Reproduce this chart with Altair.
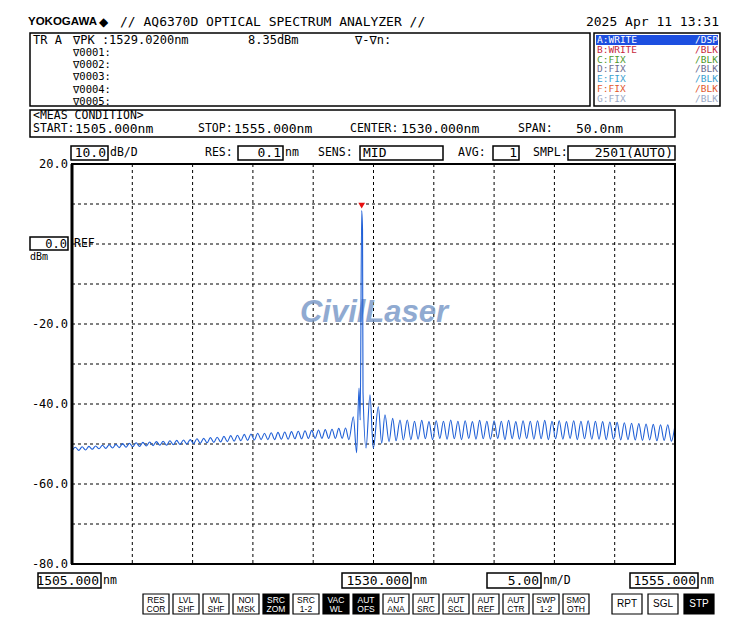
import altair as alt
import pandas as pd

W, H = 730, 608
MONO = "DejaVu Sans Mono"
SANS = "Liberation Sans"

# ---------------- spectrum data ----------------
LEFT_NM = [1505.00, 1505.28, 1505.56, 1505.84, 1506.12, 1506.40, 1506.68, 1506.96, 1507.24, 1507.52,
           1507.80, 1508.08, 1508.36, 1508.64, 1508.92, 1509.20, 1509.48, 1509.76, 1510.04, 1510.32,
           1510.60, 1510.88, 1511.16, 1511.44, 1511.72, 1512.00, 1512.28, 1512.56, 1512.84, 1513.12,
           1513.40, 1513.68, 1513.96, 1514.24, 1514.52, 1514.80, 1515.08, 1515.36, 1515.64, 1515.92,
           1516.20, 1516.48, 1516.76, 1517.04, 1517.32, 1517.60, 1517.88, 1518.16, 1518.44, 1518.72,
           1519.00, 1519.28, 1519.56, 1519.84, 1520.12, 1520.40, 1520.68, 1520.96, 1521.24, 1521.52,
           1521.80, 1522.08, 1522.36, 1522.64, 1522.92, 1523.20, 1523.48, 1523.76, 1524.04, 1524.32,
           1524.60, 1524.88, 1525.16, 1525.44, 1525.72, 1526.00, 1526.28, 1526.56, 1526.84, 1527.12,
           1527.40, 1527.68, 1527.96]
LEFT_DBM = [-51.7, -50.8, -51.6, -50.7, -51.5, -50.6, -51.3, -50.5, -51.2, -50.3,
            -51.1, -50.2, -51.0, -50.1, -50.9, -49.9, -50.8, -49.8, -50.7, -49.7,
            -50.6, -49.6, -50.5, -49.5, -50.4, -49.4, -50.3, -49.3, -50.3, -49.2,
            -50.2, -49.1, -50.1, -49.0, -50.0, -48.9, -49.9, -48.7, -49.8, -48.6,
            -49.7, -48.4, -49.6, -48.3, -49.5, -48.1, -49.4, -47.9, -49.3, -47.8,
            -49.2, -47.6, -49.1, -47.5, -49.0, -47.3, -48.9, -47.3, -48.9, -47.2,
            -48.9, -47.1, -48.8, -47.0, -48.8, -46.9, -48.7, -46.8, -48.7, -46.7,
            -48.6, -46.6, -48.6, -46.5, -48.6, -46.4, -48.6, -46.3, -48.6, -46.1,
            -48.6, -46.0, -48.9]
PEAKZONE_NM = [1528.33, 1528.60, 1528.80, 1528.90, 1529.02, 1529.09, 1529.13, 1529.38, 1529.71,
               1529.98, 1530.40, 1530.68, 1530.95, 1531.29, 1531.59, 1531.87, 1532.20, 1532.47, 1532.80]
PEAKZONE_DBM = [-43.2, -52.2, -36.0, -44.0, 8.35, 3.5, -37.0, -51.0, -37.7,
                -51.1, -40.7, -49.8, -42.7, -49.4, -43.6, -49.2, -44.0, -49.0, -44.0]
RIGHT_NM = [1533.1, 1533.4, 1533.7, 1534.0, 1534.3, 1534.6, 1534.9, 1535.2, 1535.5, 1535.8,
            1536.1, 1536.4, 1536.7, 1537.0, 1537.3, 1537.6, 1537.9, 1538.2, 1538.5, 1538.8,
            1539.1, 1539.4, 1539.7, 1540.0, 1540.3, 1540.6, 1540.9, 1541.2, 1541.5, 1541.8,
            1542.1, 1542.4, 1542.7, 1543.0, 1543.3, 1543.6, 1543.9, 1544.2, 1544.5, 1544.8,
            1545.1, 1545.4, 1545.7, 1546.0, 1546.3, 1546.6, 1546.9, 1547.2, 1547.5, 1547.8,
            1548.1, 1548.4, 1548.7, 1549.0, 1549.3, 1549.6, 1549.9, 1550.2, 1550.5, 1550.8,
            1551.1, 1551.4, 1551.7, 1552.0, 1552.3, 1552.6, 1552.9, 1553.2, 1553.5, 1553.8,
            1554.1, 1554.4, 1554.7, 1555.0]
RIGHT_DBM = [-48.9, -44.3, -48.8, -44.1, -48.7, -44.4, -48.9, -44.2, -48.6, -44.3,
             -48.8, -44.0, -48.7, -44.3, -48.9, -44.2, -48.6, -44.4, -48.8, -44.1,
             -48.7, -44.3, -48.8, -44.2, -48.6, -44.3, -48.9, -44.1, -48.7, -44.4,
             -48.8, -44.2, -48.6, -44.3, -48.8, -44.2, -48.7, -44.1, -48.9, -44.3,
             -48.7, -44.2, -48.8, -44.4, -48.6, -44.2, -48.9, -44.3, -48.7, -44.2,
             -48.8, -44.3, -48.8, -44.4, -48.9, -44.5, -48.8, -44.6, -49.0, -44.7,
             -48.9, -44.8, -49.0, -44.9, -49.1, -45.0, -49.0, -45.1, -49.2, -45.2,
             -49.1, -45.2, -49.3, -45.3]

PEAK_NM = 1529.02
PEAK_DBM = 8.35
GRID_NM = [1510, 1515, 1520, 1525, 1530, 1535, 1540, 1545, 1550]
GRID_DB = [10, 0, -10, -20, -30, -40, -50, -60, -70]
YLAB_DB = [20, -20, -40, -60, -80]
YLAB_TXT = ["20.0", "-20.0", "-40.0", "-60.0", "-80.0"]

# ---------------- scales ----------------
PX = alt.Scale(domain=[0, W], range=[0, W])
PY = alt.Scale(domain=[0, H], range=[0, H])
NM = alt.Scale(domain=[1505, 1555], range=[64, 667])
DB = alt.Scale(domain=[-80, 20], range=[556, 156])


def text_layer(rows, align="left", font=MONO, weight="normal", style="normal", opacity=1.0):
    df = pd.DataFrame(rows, columns=["x", "y", "t", "s", "c"])
    return alt.Chart(df).mark_text(align=align, baseline="middle", font=font,
                                   fontWeight=weight, fontStyle=style, opacity=opacity).encode(
        x=alt.X("x:Q", scale=PX, axis=None),
        y=alt.Y("y:Q", scale=PY, axis=None),
        text=alt.Text("t:N"),
        size=alt.Size("s:Q", scale=None, legend=None),
        color=alt.Color("c:N", scale=None, legend=None),
    )


def rect_layer(rows, width=1.0):
    df = pd.DataFrame(rows, columns=["x", "y", "x2", "y2", "f"])
    return alt.Chart(df).mark_rect(stroke="black", strokeWidth=width).encode(
        x=alt.X("x:Q", scale=PX, axis=None), x2="x2:Q",
        y=alt.Y("y:Q", scale=PY, axis=None), y2="y2:Q",
        fill=alt.Color("f:N", scale=None, legend=None),
    )


layers = []

# panels / boxes
layers.append(rect_layer([
    (22, 25, 582, 98, "white"),
    (586, 25, 712, 98, "white"),
    (22, 102, 667, 129, "white"),
    (63, 138, 100, 152, "white"),
    (230, 138, 275, 152, "white"),
    (352, 138, 435, 152, "white"),
    (485, 138, 511, 152, "white"),
    (560, 138, 667, 152, "white"),
    (22, 229, 60, 242, "white"),
    (30, 565, 93, 580, "white"),
    (334, 565, 403, 580, "white"),
    (479, 565, 533, 580, "white"),
    (622, 565, 690, 580, "white"),
], width=1.5))
layers.append(rect_layer([(588, 27, 710, 37, "#1d4fe0")], width=0))

# buttons
BTN_TOP = ["RES", "LVL", "WL", "NOI", "SRC", "SRC", "VAC", "AUT", "AUT", "AUT", "AUT", "AUT", "AUT", "SWP", "SMO"]
BTN_BOT = ["COR", "SHF", "SHF", "MSK", "ZOM", "1-2", "WL", "OFS", "ANA", "SRC", "SCL", "REF", "CTR", "1-2", "OTH"]
BTN_DARK = [False, False, False, False, True, False, True, True, False, False, False, False, False, False, False]
BTN2 = ["RPT", "SGL", "STP"]
BTN2_DARK = [False, False, True]
btn_rects, btn_txt = [], []
for k in range(len(BTN_TOP)):
    x0 = 135 + 30 * k
    dark = BTN_DARK[k]
    btn_rects.append((x0, 586, x0 + 26, 606, "black" if dark else "white"))
    col = "white" if dark else "black"
    btn_txt.append((x0 + 13, 591.5, BTN_TOP[k], 8.5, col))
    btn_txt.append((x0 + 13, 601, BTN_BOT[k], 8.5, col))
for k in range(len(BTN2)):
    x0 = 604 + 36 * k
    dark = BTN2_DARK[k]
    btn_rects.append((x0, 586, x0 + 30, 606, "black" if dark else "white"))
    btn_txt.append((x0 + 15, 596, BTN2[k], 10, "white" if dark else "black"))
layers.append(rect_layer(btn_rects, width=1.2))

# grid
layers.append(alt.Chart(pd.DataFrame({"nm": GRID_NM, "t": 20, "b": -80})).mark_rule(
    color="black", strokeWidth=1, strokeDash=[3, 3]).encode(
    x=alt.X("nm:Q", scale=NM, axis=None), y=alt.Y("t:Q", scale=DB, axis=None), y2="b:Q"))
layers.append(alt.Chart(pd.DataFrame({"db": GRID_DB, "l": 1505, "r": 1555})).mark_rule(
    color="black", strokeWidth=1, strokeDash=[3, 3]).encode(
    x=alt.X("l:Q", scale=NM, axis=None), x2="r:Q", y=alt.Y("db:Q", scale=DB, axis=None)))

# watermark
layers.append(text_layer([(366, 305, "CivilLaser", 31, "#7d9cc9")], align="center", font=SANS,
                         weight="bold", style="italic", opacity=0.85))

# trace
trace = pd.DataFrame({
    "nm": LEFT_NM + PEAKZONE_NM + RIGHT_NM,
    "dbm": LEFT_DBM + PEAKZONE_DBM + RIGHT_DBM,
})
layers.append(alt.Chart(trace).mark_line(color="#1f5fd6", strokeWidth=1.1, interpolate="monotone").encode(
    x=alt.X("nm:Q", scale=NM, axis=None), y=alt.Y("dbm:Q", scale=DB, axis=None)))

# frame
layers.append(alt.Chart(pd.DataFrame({"l": [1505], "r": [1555], "t": [20], "b": [-80]})).mark_rect(
    fillOpacity=0, stroke="black", strokeWidth=2).encode(
    x=alt.X("l:Q", scale=NM, axis=None), x2="r:Q", y=alt.Y("t:Q", scale=DB, axis=None), y2="b:Q"))
layers.append(alt.Chart(pd.DataFrame({"l": [1505], "t": [20], "b": [-80]})).mark_rule(
    color="black", strokeWidth=3).encode(
    x=alt.X("l:Q", scale=NM, axis=None), y=alt.Y("t:Q", scale=DB, axis=None), y2="b:Q"))

# peak marker
layers.append(alt.Chart(pd.DataFrame({"nm": [PEAK_NM], "dbm": [PEAK_DBM]})).mark_point(
    shape="triangle-down", filled=True, color="#e81010", size=45, opacity=1, yOffset=-5).encode(
    x=alt.X("nm:Q", scale=NM, axis=None), y=alt.Y("dbm:Q", scale=DB, axis=None)))

# y labels
layers.append(alt.Chart(pd.DataFrame({"db": YLAB_DB, "t": YLAB_TXT})).mark_text(
    align="right", baseline="middle", font=MONO, fontSize=12, color="black").encode(
    x=alt.value(60), y=alt.Y("db:Q", scale=DB, axis=None), text="t:N"))

BIG = 13
MID = 12
ROW = 10.5
SMALL = 11.5
LIST = 9.5
# left aligned texts
left_txt = [
    (112, 14, "// AQ6370D OPTICAL SPECTRUM ANALYZER //", BIG, "black"),
    (25, 31.5, "TR A", MID, "black"),
    (65, 31.5, "∇PK  :1529.0200nm", MID, "black"),
    (240, 31.5, "8.35dBm", MID, "black"),
    (347, 31.5, "∇-∇n:", MID, "black"),
    (65, 44.6, "∇0001:", ROW, "black"),
    (65, 56.9, "∇0002:", ROW, "black"),
    (65, 69.2, "∇0003:", ROW, "black"),
    (65, 81.5, "∇0004:", ROW, "black"),
    (65, 93.8, "∇0005:", ROW, "black"),
    (25, 108, "<MEAS CONDITION>", SMALL, "black"),
    (25, 121, "START:", SMALL, "black"),
    (67, 121, "1505.000nm", BIG, "black"),
    (190, 121, "STOP:", SMALL, "black"),
    (226, 121, "1555.000nm", BIG, "black"),
    (342, 121, "CENTER:", SMALL, "black"),
    (393, 121, "1530.000nm", BIG, "black"),
    (510, 121, "SPAN:", SMALL, "black"),
    (568, 121, "50.0nm", BIG, "black"),
    (102, 145, "dB/D", SMALL, "black"),
    (197, 145, "RES:", SMALL, "black"),
    (277, 145, "nm", SMALL, "black"),
    (310, 145, "SENS:", SMALL, "black"),
    (355, 145, "MID", BIG, "black"),
    (450, 145, "AVG:", SMALL, "black"),
    (525, 145, "SMPL:", SMALL, "black"),
    (66, 236, "REF", SMALL, "black"),
    (22, 249, "dBm", SMALL - 1.5, "black"),
    (95, 572.5, "nm", SMALL, "black"),
    (405, 572.5, "nm", SMALL, "black"),
    (535, 572.5, "nm/D", SMALL, "black"),
    (692, 572.5, "nm", SMALL, "black"),
    (589, 32, "A:WRITE", LIST, "white"),
    (589, 41.8, "B:WRITE", LIST, "#c8283c"),
    (589, 51.6, "C:FIX", LIST, "#4f9a2c"),
    (589, 61.4, "D:FIX", LIST, "#6c6c90"),
    (589, 71.2, "E:FIX", LIST, "#3a9fd0"),
    (589, 81, "F:FIX", LIST, "#e2582c"),
    (589, 90.8, "G:FIX", LIST, "#9aa8c4"),
]
layers.append(text_layer(left_txt, align="left"))

right_txt = [
    (711, 14, "2025 Apr 11 13:31", BIG, "black"),
    (98, 145, "10.0", BIG, "black"),
    (273, 145, "0.1", BIG, "black"),
    (509, 145, "1", BIG, "black"),
    (665, 145, "2501(AUTO)", BIG, "black"),
    (59, 236, "0.0", 12, "black"),
    (91, 572.5, "1505.000", BIG, "black"),
    (401, 572.5, "1530.000", BIG, "black"),
    (531, 572.5, "5.00", BIG, "black"),
    (688, 572.5, "1555.000", BIG, "black"),
    (710, 32, "/DSP", LIST, "white"),
    (710, 41.8, "/BLK", LIST, "#c8283c"),
    (710, 51.6, "/BLK", LIST, "#4f9a2c"),
    (710, 61.4, "/BLK", LIST, "#6c6c90"),
    (710, 71.2, "/BLK", LIST, "#3a9fd0"),
    (710, 81, "/BLK", LIST, "#e2582c"),
    (710, 90.8, "/BLK", LIST, "#9aa8c4"),
]
layers.append(text_layer(right_txt, align="right"))

layers.append(text_layer(btn_txt, align="center", font=SANS))
layers.append(text_layer([(20, 14, "YOKOGAWA", 11.5, "black")], align="left", font=SANS, weight="bold"))
layers.append(text_layer([(91, 14, "◆", 12, "black")], align="left", font="DejaVu Sans"))

chart = alt.layer(*layers).resolve_scale(
    x="independent", y="independent", color="independent", size="independent"
).properties(
    width=W, height=H, autosize=alt.AutoSizeParams(type="none"), padding=0, background="white"
).configure_view(stroke=None)

chart.save("out.html", embed_options={"renderer": "svg", "actions": False})
